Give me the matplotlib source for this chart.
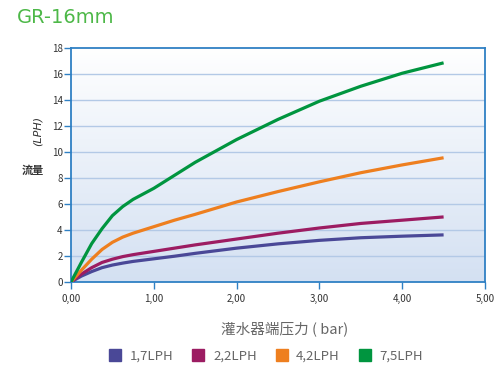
import numpy as np
import matplotlib
matplotlib.use("Agg")
import matplotlib.pyplot as plt
from matplotlib.lines import Line2D

plt.rcParams['font.family'] = ['Noto Sans CJK SC', 'DejaVu Sans']

# pressure (bar) and flow (LPH)
pressure = [0, 0.125, 0.25, 0.375, 0.5, 0.625, 0.75, 1.0, 1.25, 1.5, 2.0, 2.5, 3.0, 3.5, 4.0, 4.5]
flow_17 = [0, 0.45, 0.8, 1.1, 1.3, 1.45, 1.58, 1.78, 1.98, 2.2, 2.6, 2.93, 3.2, 3.4, 3.52, 3.62]
flow_22 = [0, 0.6, 1.1, 1.5, 1.75, 1.95, 2.1, 2.35, 2.6, 2.85, 3.3, 3.75, 4.15, 4.5, 4.75, 5.0]
flow_42 = [0, 0.9, 1.75, 2.5, 3.05, 3.45, 3.75, 4.25, 4.75, 5.2, 6.15, 6.95, 7.7, 8.4, 9.0, 9.55]
flow_75 = [0, 1.5, 2.95, 4.1, 5.1, 5.8, 6.35, 7.2, 8.2, 9.2, 10.95, 12.5, 13.9, 15.05, 16.05, 16.85]

series = [("1,7LPH", flow_17, "#4a4897"),
          ("2,2LPH", flow_22, "#9c1c62"),
          ("4,2LPH", flow_42, "#ee7f1f"),
          ("7,5LPH", flow_75, "#00953f")]

x_ticks = [0, 1, 2, 3, 4, 5]
x_labels = ["0,00", "1,00", "2,00", "3,00", "4,00", "5,00"]
y_ticks = list(range(0, 19, 2))

fig = plt.figure(figsize=(5, 3.8), dpi=100)
ax = fig.add_axes([0.142, 0.258, 0.828, 0.616])

# background gradient, white at top to light blue at bottom
grad = np.linspace(0, 1, 256).reshape(-1, 1)
top = np.array([1.0, 1.0, 1.0])
bot = np.array([0.83, 0.88, 0.95])
img = top + (bot - top) * grad[:, :, None]
ax.imshow(img, extent=[0, 5, 0, 18], aspect='auto', origin='upper', zorder=0)

for y in y_ticks[1:-1]:
    ax.axhline(y, color="#b3c9e6", lw=1.0, zorder=1)

for name, vals, col in series:
    ax.plot(pressure, vals, color=col, lw=2.3, solid_capstyle='butt',
            solid_joinstyle='round', zorder=3)

ax.set_xlim(0, 5)
ax.set_ylim(0, 18)
ax.set_xticks(x_ticks)
ax.set_xticklabels(x_labels)
ax.set_yticks(y_ticks)
for s in ax.spines.values():
    s.set_color("#2f80c4")
    s.set_linewidth(1.3)
ax.tick_params(axis='both', colors="#2f80c4", labelcolor="#333333", labelsize=7,
               length=5, width=1)
ax.tick_params(axis='x', pad=4)
ax.tick_params(axis='y', pad=1)

fig.text(0.034, 0.955, "GR-16mm", color="#4db848", fontsize=14, ha='left', va='center',
         family=['DejaVu Sans'])
fig.text(0.065, 0.553, "流量", fontsize=8, fontweight='bold', color="#333333",
         ha='center', va='center')
fig.text(0.075, 0.655, "(LPH)", fontsize=8, style='italic', color="#333333",
         rotation=90, ha='center', va='center', family=['DejaVu Sans'])
fig.text(0.57, 0.135, "灌水器端压力 ( bar)", fontsize=10.5, color="#666666",
         ha='center', va='center')

handles = [Line2D([], [], marker='s', linestyle='none', markersize=8,
                  markerfacecolor=c, markeredgecolor=c) for _, _, c in series]
fig.legend(handles, [n for n, _, _ in series], loc='center', ncol=4,
           bbox_to_anchor=(0.525, 0.063), frameon=False, fontsize=9.5,
           handletextpad=0.1, columnspacing=0.9, labelcolor="#666666")

fig.savefig("out.png", dpi=100)
